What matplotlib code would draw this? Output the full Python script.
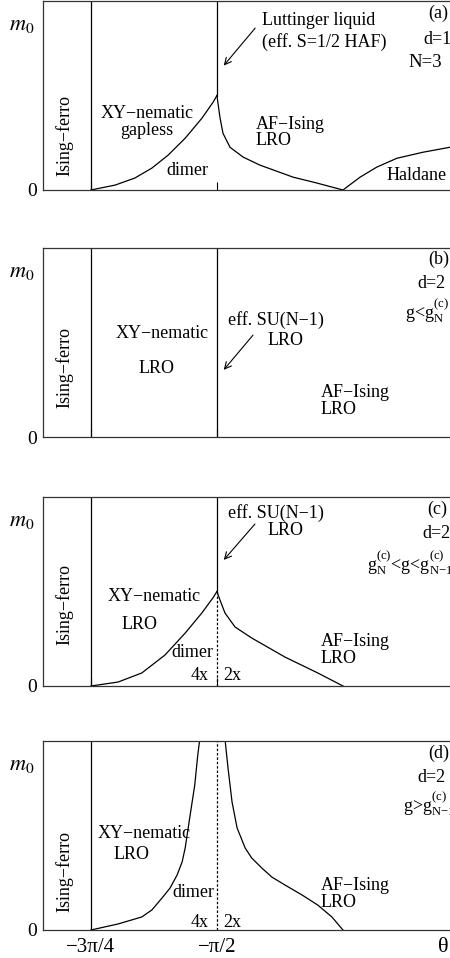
import matplotlib
matplotlib.use("Agg")
import matplotlib.pyplot as plt

plt.rcParams["font.family"] = ["Liberation Serif", "DejaVu Serif"]
plt.rcParams["mathtext.fontset"] = "stix"

# theta in units of pi, m0 in units of the panel height
theta_a_left = [-0.75, -0.702, -0.663, -0.629, -0.597, -0.563, -0.530, -0.508, -0.5]
m_a_left = [0.0, 0.026, 0.063, 0.116, 0.184, 0.274, 0.379, 0.463, 0.5]
theta_a_right = [-0.5, -0.494, -0.488, -0.474, -0.448, -0.415, -0.349, -0.302, -0.25,
                 -0.216, -0.183, -0.143, -0.091, -0.038, 0.0]
m_a_right = [0.5, 0.384, 0.30, 0.226, 0.174, 0.132, 0.068, 0.037, 0.0,
             0.068, 0.121, 0.168, 0.20, 0.226, 0.235]

theta_c_left = [-0.75, -0.696, -0.649, -0.603, -0.563, -0.530, -0.508, -0.5]
m_c_left = [0.0, 0.021, 0.069, 0.164, 0.28, 0.386, 0.466, 0.5]
theta_c_right = [-0.5, -0.494, -0.484, -0.464, -0.431, -0.365, -0.300, -0.25]
m_c_right = [0.5, 0.455, 0.386, 0.312, 0.254, 0.153, 0.069, 0.0]

theta_d_left = [-0.75, -0.696, -0.649, -0.629, -0.609, -0.593, -0.579, -0.569, -0.563,
                -0.554, -0.544, -0.538, -0.534]
m_d_left = [0.0, 0.032, 0.069, 0.106, 0.169, 0.222, 0.291, 0.36, 0.434,
            0.593, 0.767, 0.926, 1.01]
theta_d_right = [-0.484, -0.478, -0.470, -0.460, -0.444, -0.431, -0.411, -0.391, -0.365,
                 -0.331, -0.300, -0.272, -0.25]
m_d_right = [1.01, 0.857, 0.677, 0.540, 0.434, 0.381, 0.328, 0.28, 0.238,
             0.185, 0.132, 0.069, 0.0]

xtick_pos = [-0.75, -0.5]
xtick_labels = ["\u22123\u03c0/4", "\u2212\u03c0/2"]

FS = 13
W, H = 450, 958
fig = plt.figure(figsize=(W / 100, H / 100), dpi=100)

left = 43 / W
width = (469 - 43) / W
panel_px = [(1, 190), (248, 437), (497, 686), (741, 930)]
axes = []
for top, bot in panel_px:
    ax = fig.add_axes([left, 1 - bot / H, width, (bot - top) / H])
    ax.set_xlim(-0.845, 0.0)
    ax.set_ylim(0, 1)
    ax.set_xticks(xtick_pos)
    ax.set_xticklabels([])
    ax.set_yticks([0])
    ax.set_yticklabels(["0"], fontsize=FS + 1)
    ax.tick_params(axis="x", direction="in", length=6, width=0.8, top=False)
    ax.tick_params(axis="y", length=0, pad=4)
    for s in ax.spines.values():
        s.set_linewidth(0.9)
        s.set_color("#333333")
    ax.spines["right"].set_visible(False)
    ax.text(-0.05, 0.87, r"$m_{\mathit{0}}$", transform=ax.transAxes,
            fontsize=16, ha="center", va="center")
    ax.axvline(-0.75, color="black", lw=0.9)
    axes.append(ax)

kw = dict(color="black", lw=0.9)
ax_a, ax_b, ax_c, ax_d = axes
arrow = dict(arrowstyle="->", lw=0.8, mutation_scale=12)

# panel (a)
ax_a.plot(theta_a_left, m_a_left, **kw)
ax_a.plot(theta_a_right, m_a_right, **kw)
ax_a.plot([-0.5, -0.5], [0.5, 1.0], **kw)
ax_a.text(-0.802, 0.29, "Ising\u2212ferro", rotation=90, fontsize=FS, ha="center", va="center")
ax_a.text(-0.639, 0.36, "XY\u2212nematic\ngapless", fontsize=FS, ha="center", va="center",
          linespacing=0.95)
ax_a.text(-0.559, 0.105, "dimer", fontsize=FS, ha="center", va="center")
ax_a.text(-0.4226, 0.305, "AF\u2212Ising\nLRO", fontsize=FS, ha="left", va="center",
          linespacing=0.95)
ax_a.text(-0.163, 0.079, "Haldane", fontsize=FS, ha="left", va="center")
ax_a.text(-0.411, 0.84, "Luttinger liquid\n(eff. S=1/2 HAF)", fontsize=FS, ha="left",
          va="center", linespacing=1.3)
ax_a.annotate("", xy=(-0.49, 0.647), xytext=(-0.4206, 0.868), arrowprops=arrow)
ax_a.text(-0.0813, 0.935, "(a)", fontsize=FS, ha="left", va="center")
ax_a.text(-0.0913, 0.795, "d=1", fontsize=FS, ha="left", va="center")
ax_a.text(-0.121, 0.675, "N=3", fontsize=FS + 0.5, ha="left", va="center")

# panel (b)
ax_b.plot([-0.5, -0.5], [0.0, 1.0], **kw)
ax_b.text(-0.802, 0.37, "Ising\u2212ferro", rotation=90, fontsize=FS, ha="center", va="center")
ax_b.text(-0.609, 0.55, "XY\u2212nematic", fontsize=FS, ha="center", va="center")
ax_b.text(-0.619, 0.365, "LRO", fontsize=FS, ha="center", va="center")
ax_b.text(-0.383, 0.62, "eff. SU(N\u22121)", fontsize=FS, ha="center", va="center")
ax_b.text(-0.363, 0.513, "LRO", fontsize=FS, ha="center", va="center")
ax_b.annotate("", xy=(-0.49, 0.344), xytext=(-0.425, 0.55), arrowprops=arrow)
ax_b.text(-0.294, 0.19, "AF\u2212Ising\nLRO", fontsize=FS, ha="left", va="center",
          linespacing=0.95)
ax_b.text(-0.0813, 0.94, "(b)", fontsize=FS, ha="left", va="center")
ax_b.text(-0.1032, 0.81, "d=2", fontsize=FS, ha="left", va="center")
ax_b.text(-0.127, 0.67, r"g<$\mathregular{g_{N}^{(c)}}$", fontsize=FS, ha="left", va="center")

# panel (c)
ax_c.plot(theta_c_left, m_c_left, **kw)
ax_c.plot(theta_c_right, m_c_right, **kw)
ax_c.plot([-0.5, -0.5], [0.5, 1.0], **kw)
ax_c.plot([-0.5, -0.5], [0.0, 0.5], color="black", lw=0.9, ls=(0, (2, 1.5)))
ax_c.text(-0.802, 0.43, "Ising\u2212ferro", rotation=90, fontsize=FS, ha="center", va="center")
ax_c.text(-0.625, 0.471, "XY\u2212nematic", fontsize=FS, ha="center", va="center")
ax_c.text(-0.653, 0.323, "LRO", fontsize=FS, ha="center", va="center")
ax_c.text(-0.548, 0.175, "dimer", fontsize=FS, ha="center", va="center")
ax_c.text(-0.534, 0.053, "4x", fontsize=FS, ha="center", va="center")
ax_c.text(-0.470, 0.053, "2x", fontsize=FS, ha="center", va="center")
ax_c.text(-0.383, 0.915, "eff. SU(N\u22121)", fontsize=FS, ha="center", va="center")
ax_c.text(-0.363, 0.825, "LRO", fontsize=FS, ha="center", va="center")
ax_c.annotate("", xy=(-0.49, 0.656), xytext=(-0.421, 0.868), arrowprops=arrow)
ax_c.text(-0.294, 0.19, "AF\u2212Ising\nLRO", fontsize=FS, ha="left", va="center",
          linespacing=0.95)
ax_c.text(-0.0833, 0.935, "(c)", fontsize=FS, ha="left", va="center")
ax_c.text(-0.0933, 0.805, "d=2", fontsize=FS, ha="left", va="center")
ax_c.text(-0.2024, 0.65,
          r"$\mathregular{g_{N}^{(c)}}$<g<$\mathregular{g_{N{-}1}^{(c)}}$",
          fontsize=FS, ha="left", va="center")

# panel (d)
ax_d.plot(theta_d_left, m_d_left, **kw)
ax_d.plot(theta_d_right, m_d_right, **kw)
ax_d.plot([-0.5, -0.5], [0.0, 1.0], color="black", lw=0.9, ls=(0, (2, 1.5)))
ax_d.text(-0.802, 0.31, "Ising\u2212ferro", rotation=90, fontsize=FS, ha="center", va="center")
ax_d.text(-0.645, 0.513, "XY\u2212nematic", fontsize=FS, ha="center", va="center")
ax_d.text(-0.669, 0.402, "LRO", fontsize=FS, ha="center", va="center")
ax_d.text(-0.546, 0.196, "dimer", fontsize=FS, ha="center", va="center")
ax_d.text(-0.534, 0.042, "4x", fontsize=FS, ha="center", va="center")
ax_d.text(-0.470, 0.042, "2x", fontsize=FS, ha="center", va="center")
ax_d.text(-0.294, 0.19, "AF\u2212Ising\nLRO", fontsize=FS, ha="left", va="center",
          linespacing=0.95)
ax_d.text(-0.0813, 0.935, "(d)", fontsize=FS, ha="left", va="center")
ax_d.text(-0.1032, 0.805, "d=2", fontsize=FS, ha="left", va="center")
ax_d.text(-0.131, 0.67, r"g>$\mathregular{g_{N{-}1}^{(c)}}$", fontsize=FS, ha="left",
          va="center")
ax_d.set_xticklabels(xtick_labels, fontsize=FS + 2)
ax_d.tick_params(axis="x", length=0, pad=6)
ax_d.text(-0.0516, -0.095, "\u03b8", fontsize=FS + 3, ha="center", va="center",
          transform=ax_d.get_xaxis_transform())

fig.savefig("out.png", dpi=100)
